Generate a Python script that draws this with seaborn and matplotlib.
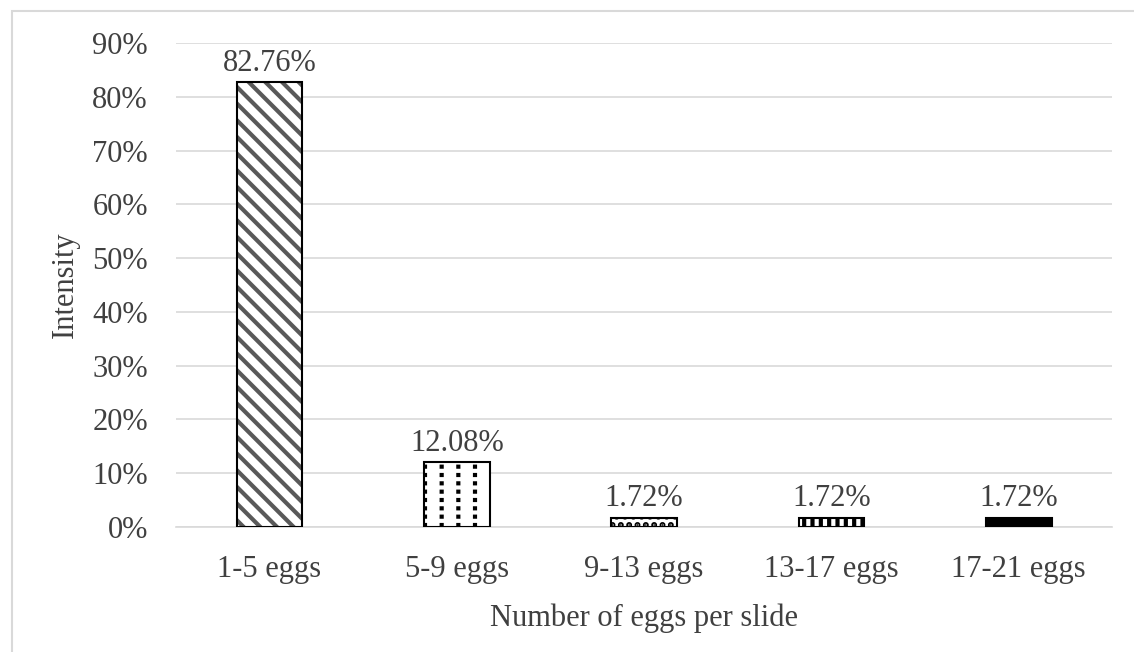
import pandas as pd
import seaborn as sns
import matplotlib.pyplot as plt
from matplotlib.patches import Rectangle

categories = ['1-5 eggs', '5-9 eggs', '9-13 eggs', '13-17 eggs', '17-21 eggs']
intensity = [82.76, 12.08, 1.72, 1.72, 1.72]
value_labels = ['82.76%', '12.08%', '1.72%', '1.72%', '1.72%']
y_ticks = [0, 10, 20, 30, 40, 50, 60, 70, 80, 90]

df = pd.DataFrame({'group': categories, 'intensity': intensity})

sns.set_style('white')
plt.rcParams['font.family'] = ['Liberation Serif', 'DejaVu Serif']
plt.rcParams['hatch.linewidth'] = 3

FS = 22
TXT = '#404040'

fig = plt.figure(figsize=(11.34, 6.52), dpi=100)
ax = fig.add_axes([0.155, 0.192, 0.826, 0.742])

sns.barplot(data=df, x='group', y='intensity', ax=ax, width=0.35,
            color='white', edgecolor='black', linewidth=1.5, zorder=3)

# hatch styles per bar
styles = [
    dict(hatch='\\\\', edgecolor='#595959', facecolor='white'),
    dict(hatch='|', edgecolor='black', facecolor='white'),
    dict(hatch='..', edgecolor='black', facecolor='white'),
    dict(hatch='||', edgecolor='black', facecolor='white'),
    dict(hatch=None, edgecolor='black', facecolor='black'),
]
bars = list(ax.patches)
for bar, st in zip(bars, styles):
    bar.set_facecolor(st['facecolor'])
    bar.set_hatch(st['hatch'])
    bar.set_edgecolor(st['edgecolor'])
    bar.set_linewidth(0)
    # black outline drawn separately
    ax.add_patch(Rectangle(bar.get_xy(), bar.get_width(), bar.get_height(),
                           fill=False, edgecolor='black', linewidth=1.5, zorder=5))

# white horizontal breaks turn the second bar's lines into dashes
b = bars[1]
ax.add_patch(Rectangle(b.get_xy(), b.get_width(), b.get_height(), fill=False,
                       hatch='--', edgecolor='white', linewidth=0, zorder=4))

for bar, lab in zip(bars, value_labels):
    ax.text(bar.get_x() + bar.get_width() / 2, bar.get_height() + 0.8, lab,
            ha='center', va='bottom', fontsize=FS, color=TXT)

ax.set_ylim(0, 90)
ax.set_xlim(-0.5, 4.5)
ax.set_yticks(y_ticks)
ax.set_yticklabels([f'{t}%' for t in y_ticks])
ax.yaxis.grid(True, color='#d9d9d9', linewidth=1.2, zorder=0)
ax.set_axisbelow(True)
for s in ['top', 'right', 'left']:
    ax.spines[s].set_visible(False)
ax.spines['bottom'].set_color('#d9d9d9')
ax.spines['bottom'].set_linewidth(1.2)
ax.tick_params(axis='both', length=0, labelsize=FS, labelcolor=TXT)
ax.tick_params(axis='x', pad=20)
ax.tick_params(axis='y', pad=20)
ax.set_xlabel('Number of eggs per slide', fontsize=FS, color=TXT, labelpad=14)
ax.set_ylabel('Intensity', fontsize=FS, color=TXT)
ax.yaxis.set_label_coords(-0.102, 0.5)

fig.patches.append(Rectangle((12 / 1134, -0.1), 1.2, 1 - 11 / 652 + 0.1,
                             transform=fig.transFigure, fill=False,
                             edgecolor='#d9d9d9', linewidth=1.5))

fig.savefig('out.png', dpi=100)
